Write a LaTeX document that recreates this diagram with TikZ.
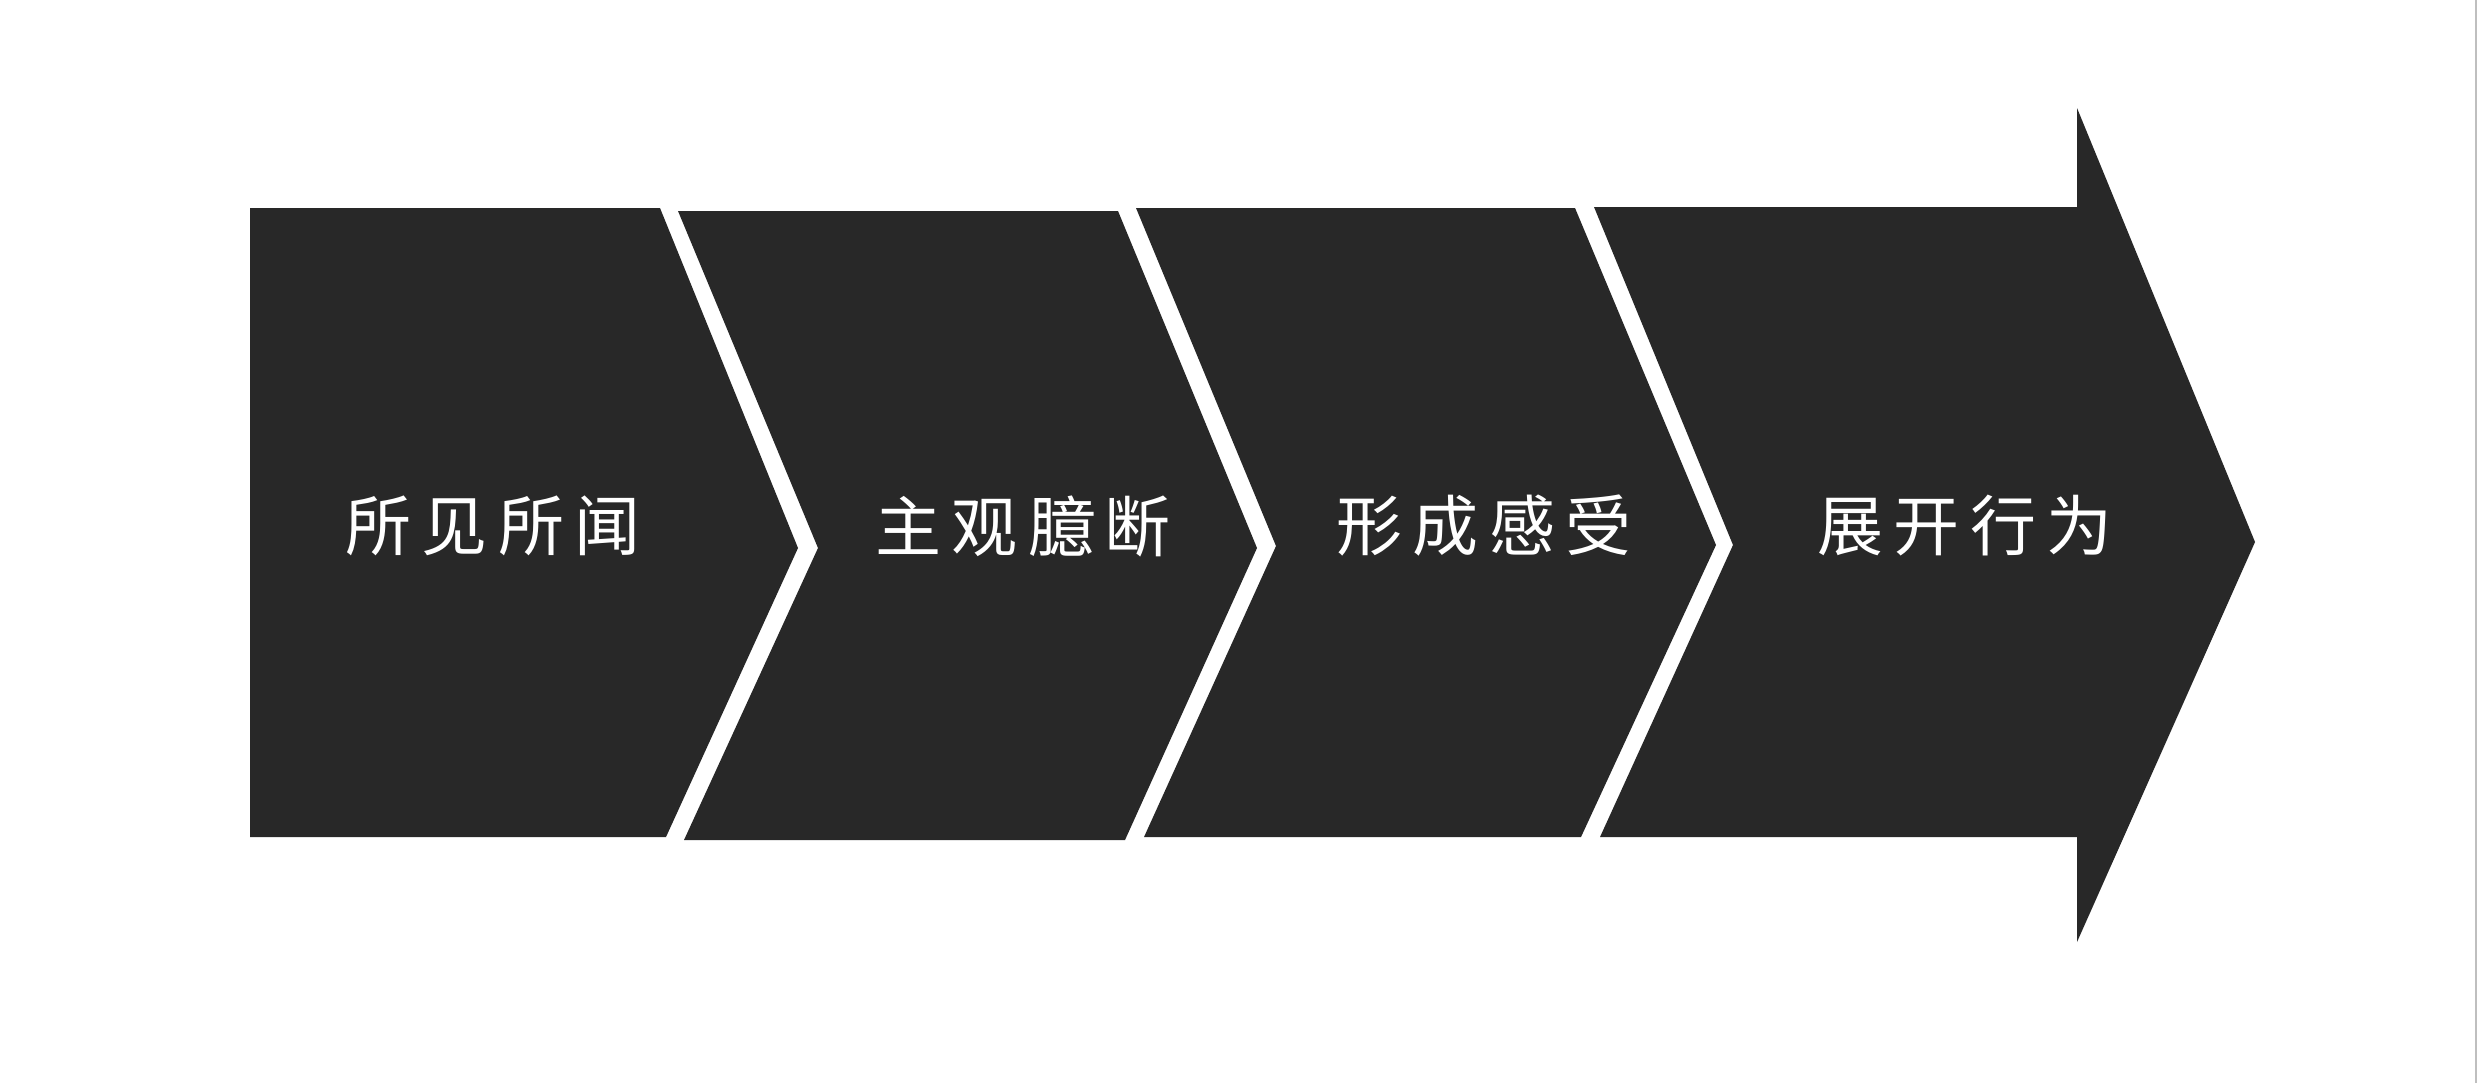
\documentclass[tikz,border=0pt]{standalone}
\usepackage{fontspec}
\usepackage{tikz}
\newfontfamily\cjk[LetterSpace=16]{Noto Sans CJK SC}
\definecolor{chevdark}{HTML}{282828}
\tikzset{
  chev/.style={fill=chevdark},
  lbl/.style={text=white, font=\cjk\fontsize{33pt}{36pt}\selectfont, inner sep=0pt}
}

\begin{document}
\begin{tikzpicture}[x=0.5pt, y=-0.5pt]
\useasboundingbox (0, 0) rectangle (2477, 1083);
\fill[white] (0, 0) rectangle (2477, 1083);
\draw[gray!50, line width=1pt] (2476, 0) -- (2476, 1083);
\fill[chev] (250, 208) -- (660, 208) -- (798, 548) -- (666, 837) -- (250, 837) -- cycle;
\fill[chev] (678, 211) -- (1118, 211) -- (1257, 548) -- (1125, 840) -- (684, 840) -- (818, 548) -- cycle;
\fill[chev] (1136, 208) -- (1575, 208) -- (1716, 545) -- (1581, 837) -- (1144, 837) -- (1276, 546) -- cycle;
\fill[chev] (1594, 207) -- (2077, 207) -- (2077, 108) -- (2255, 542) -- (2077, 942) -- (2077, 837) -- (1600, 837) -- (1733, 545) -- cycle;
\node[lbl] (seen) at (493, 526) {所见所闻};
\node[lbl] (judge) at (1023, 526) {主观臆断};
\node[lbl] (feel) at (1484, 526) {形成感受};
\node[lbl] (act) at (1965, 526) {展开行为};
\end{tikzpicture}
\end{document}
